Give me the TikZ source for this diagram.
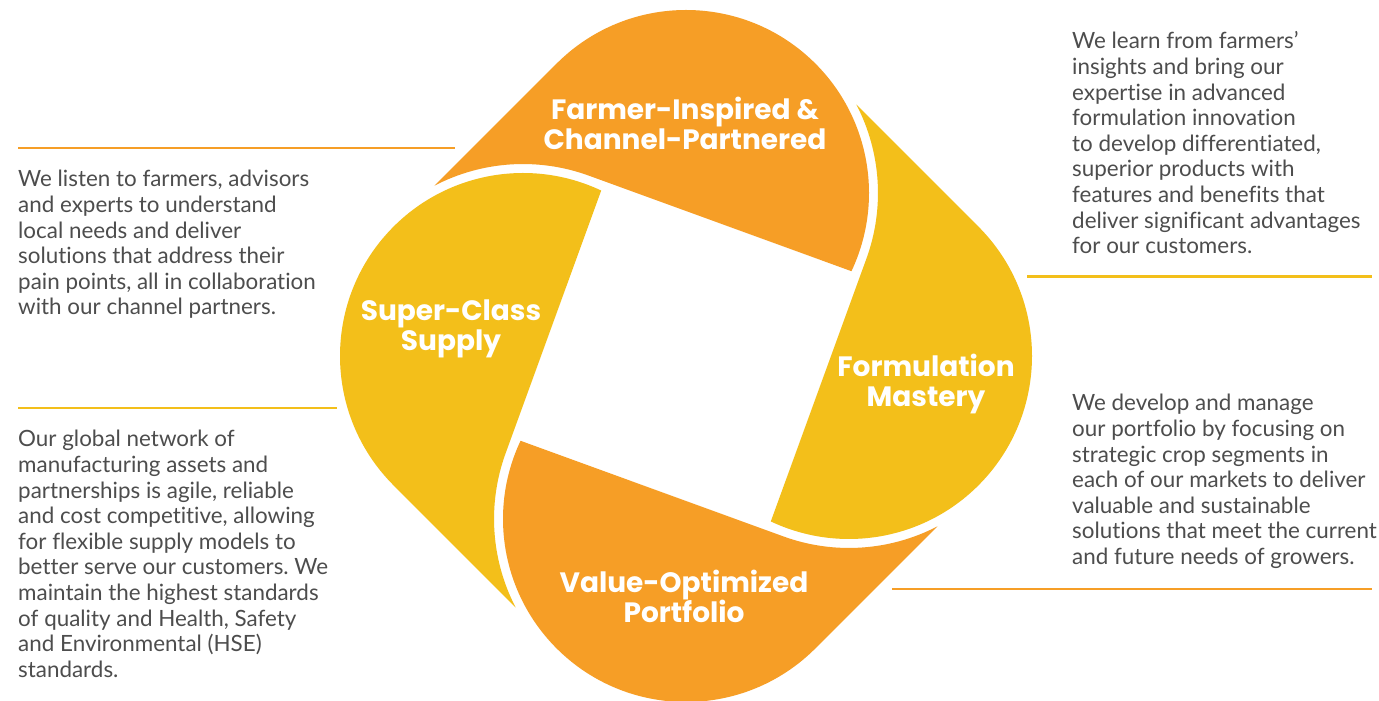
\documentclass[tikz,border=0pt]{standalone}
\usepackage{fontspec}
\setmainfont{Lato}[Ligatures=CommonOff]
\newfontfamily\headfont{Poppins}
\frenchspacing
\definecolor{petalorange}{RGB}{246,158,38}
\definecolor{petalyellow}{RGB}{243,191,26}
\definecolor{bodygray}{RGB}{77,77,77}
\newcommand\leftlines[1]{\vtop{\baselineskip=25.6pt\halign{##\hfil\cr#1\crcr}}}
\newcommand\midlines[1]{\vtop{\baselineskip=30pt\halign{\hfil##\hfil\cr#1\crcr}}}
\begin{document}
\begin{tikzpicture}[x=1pt,y=1pt,
  petalshape/.style={insert path={(-251.3,170.5) -- (-129.4,292.4)
      arc[start angle=135, end angle=-25.3, radius=183] -- (-97.3,180.4)
      arc[start angle=70, end angle=117.4, radius=192] -- cycle}},
  sepline/.style={line width=2.5pt},
  body/.style={anchor=base west, inner sep=0pt, text=bodygray, font=\fontsize{22.4}{25.6}\selectfont},
  head/.style={anchor=base, inner sep=0pt, text=white, font=\headfont\bfseries\fontsize{28}{30}\selectfont}]
\useasboundingbox (0,0) rectangle (1379,701);
\fill[white] (0,0) rectangle (1379,701);
% petals
\begin{scope}[shift={(686,345)}]
  \fill[petalorange, petalshape];
  \begin{scope}[rotate=90]\fill[petalyellow, petalshape];\end{scope}
  \begin{scope}[rotate=180]\fill[petalorange, petalshape];\end{scope}
  \begin{scope}[rotate=270]\fill[petalyellow, petalshape];\end{scope}
\end{scope}
% separator lines
\draw[sepline, petalorange] (18,553) -- (455,553);
\draw[sepline, petalyellow] (18,293) -- (337,293);
\draw[sepline, petalyellow] (1027,424.5) -- (1372,424.5);
\draw[sepline, petalorange] (892,112) -- (1372,112);
% headings
\node[head] (fa) at (685,581) {\midlines{Farmer-Inspired \&\cr Channel-Partnered}};
\node[head] (su) at (451,380.5) {\midlines{Super-Class\cr Supply}};
\node[head] (fo) at (926,324) {\midlines{Formulation\cr Mastery}};
\node[head] (va) at (684,108) {\midlines{Value-Optimized\cr Portfolio}};
% descriptions
\node[body] (tfa) at (18,514) {\leftlines{We listen to farmers, advisors\cr and experts to understand\cr local needs and deliver\cr solutions that address their\cr pain points, all in collaboration\cr with our channel partners.}};
\node[body] (tsu) at (18,254) {\leftlines{Our global network of\cr manufacturing assets and\cr partnerships is agile, reliable\cr and cost competitive, allowing\cr for flexible supply models to\cr better serve our customers. We\cr maintain the highest standards\cr of quality and Health, Safety\cr and Environmental (HSE)\cr standards.}};
\node[body] (tfo) at (1072,652) {\leftlines{We learn from farmers’\cr insights and bring our\cr expertise in advanced\cr formulation innovation\cr to develop differentiated,\cr superior products with\cr features and benefits that\cr deliver significant advantages\cr for our customers.}};
\node[body] (tva) at (1072,290) {\leftlines{We develop and manage\cr our portfolio by focusing on\cr strategic crop segments in\cr each of our markets to deliver\cr valuable and sustainable\cr solutions that meet the current\cr and future needs of growers.}};
\end{tikzpicture}
\end{document}
